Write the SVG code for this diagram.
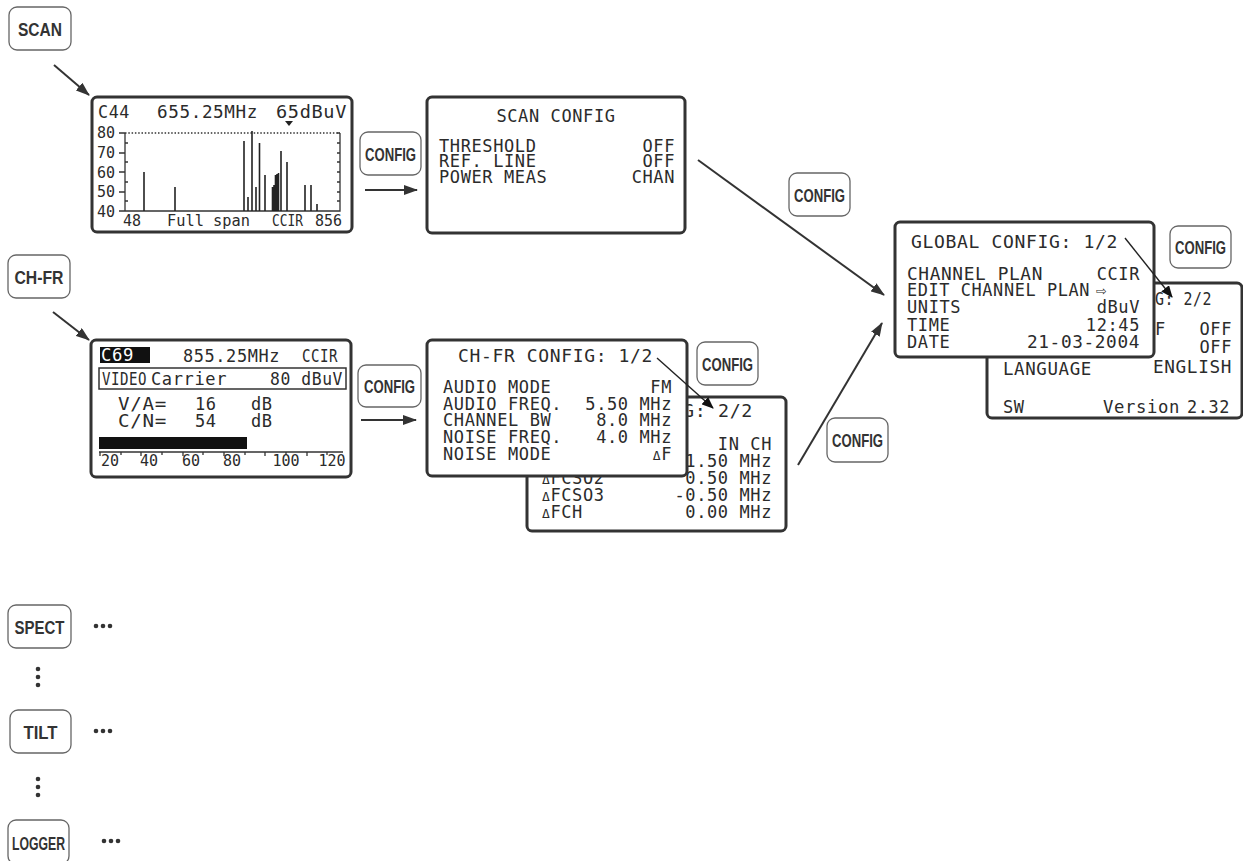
<svg xmlns="http://www.w3.org/2000/svg" width="1243" height="861" viewBox="0 0 1243 861">
<style>
.btn{fill:#fff;stroke:#666;stroke-width:1.3}
.bt{font-family:"Liberation Sans",Arial,sans-serif;font-weight:bold;font-size:18px;fill:#333;text-anchor:middle}
.scr{fill:#fff;stroke:#333;stroke-width:3}
.lcd{font-family:"DejaVu Sans Mono","Liberation Mono",monospace;font-size:17px;letter-spacing:0.6px;fill:#2b2b2b}
.sm{font-size:15px;letter-spacing:0}
.e{text-anchor:end}
.m{text-anchor:middle}
.con{stroke:#333;stroke-width:2;fill:none}
.thin{stroke:#222;stroke-width:1.4;fill:none}
.ax{stroke:#333;stroke-width:1.3;fill:none}
.bar{stroke:#222;stroke-width:1.6}
.dot{fill:#333}
</style>
<defs>
<marker id="ah" viewBox="0 0 14 10" refX="13" refY="5" markerWidth="14" markerHeight="10" markerUnits="userSpaceOnUse" orient="auto">
<path d="M0,0 L14,5 L0,10 Z" fill="#333"/>
</marker>
<marker id="ahs" viewBox="0 0 12 10" refX="11" refY="5" markerWidth="12" markerHeight="10" markerUnits="userSpaceOnUse" orient="auto">
<path d="M0,0 L12,5 L0,10 Z" fill="#111"/>
</marker>
</defs>

<!-- Buttons -->
<g id="btn-scan"><rect class="btn" x="9" y="7" width="62" height="43" rx="8"/><text class="bt" x="40" y="36" textLength="44" lengthAdjust="spacingAndGlyphs">SCAN</text></g>
<g id="btn-chfr"><rect class="btn" x="8" y="255" width="62" height="43" rx="8"/><text class="bt" x="39" y="284" textLength="49" lengthAdjust="spacingAndGlyphs">CH-FR</text></g>
<g id="btn-config1"><rect class="btn" x="360" y="132" width="61" height="43" rx="8"/><text class="bt" x="390.5" y="161" textLength="51" lengthAdjust="spacingAndGlyphs">CONFIG</text></g>
<g id="btn-config2"><rect class="btn" x="358" y="365" width="63" height="42" rx="8"/><text class="bt" x="389.5" y="393" textLength="51" lengthAdjust="spacingAndGlyphs">CONFIG</text></g>
<g id="btn-config3"><rect class="btn" x="789" y="173" width="61" height="43" rx="8"/><text class="bt" x="819.5" y="202" textLength="51" lengthAdjust="spacingAndGlyphs">CONFIG</text></g>
<g id="btn-config4"><rect class="btn" x="827" y="418" width="61" height="44" rx="8"/><text class="bt" x="857.5" y="447" textLength="51" lengthAdjust="spacingAndGlyphs">CONFIG</text></g>
<g id="btn-config5"><rect class="btn" x="697" y="342" width="61" height="43" rx="8"/><text class="bt" x="727.5" y="371" textLength="51" lengthAdjust="spacingAndGlyphs">CONFIG</text></g>
<g id="btn-config6"><rect class="btn" x="1170" y="226" width="61" height="42" rx="8"/><text class="bt" x="1200.5" y="254" textLength="51" lengthAdjust="spacingAndGlyphs">CONFIG</text></g>
<g id="btn-spect"><rect class="btn" x="8" y="605" width="63" height="43" rx="8"/><text class="bt" x="39.5" y="634" textLength="50" lengthAdjust="spacingAndGlyphs">SPECT</text>
<circle class="dot" cx="96" cy="626" r="2.3"/><circle class="dot" cx="103" cy="626" r="2.3"/><circle class="dot" cx="110" cy="626" r="2.3"/></g>
<g id="btn-tilt"><rect class="btn" x="10" y="710" width="61" height="43" rx="8"/><text class="bt" x="40.5" y="739" textLength="34" lengthAdjust="spacingAndGlyphs">TILT</text>
<circle class="dot" cx="96" cy="731" r="2.3"/><circle class="dot" cx="103" cy="731" r="2.3"/><circle class="dot" cx="110" cy="731" r="2.3"/></g>
<g id="btn-logger"><rect class="btn" x="8" y="820" width="61" height="44" rx="8"/><text class="bt" x="38.5" y="850" textLength="53" lengthAdjust="spacingAndGlyphs">LOGGER</text>
<circle class="dot" cx="104" cy="841" r="2.3"/><circle class="dot" cx="111" cy="841" r="2.3"/><circle class="dot" cx="118" cy="841" r="2.3"/></g>
<g id="vdots">
<circle class="dot" cx="38" cy="669" r="2.3"/><circle class="dot" cx="38" cy="677" r="2.3"/><circle class="dot" cx="38" cy="685" r="2.3"/>
<circle class="dot" cx="38" cy="779" r="2.3"/><circle class="dot" cx="38" cy="787" r="2.3"/><circle class="dot" cx="38" cy="795" r="2.3"/>
</g>

<!-- Spectrum screen -->
<g id="scr-scan">
<rect class="scr" x="92" y="97" width="260" height="135" rx="5"/>
<text class="lcd" x="98" y="118" textLength="32" lengthAdjust="spacingAndGlyphs">C44</text>
<text class="lcd" x="157" y="118" textLength="101" lengthAdjust="spacingAndGlyphs">655.25MHz</text>
<text class="lcd" x="276" y="118" textLength="71" lengthAdjust="spacingAndGlyphs">65dBuV</text>
<path d="M285,121 L293,121 L289,126 Z" fill="#222"/>
<g class="lcd sm">
<text x="97" y="138">80</text><text x="97" y="158">70</text><text x="97" y="178">60</text><text x="97" y="197">50</text><text x="97" y="217">40</text>
<text x="123" y="226">48</text>
<text x="167" y="226" textLength="83" lengthAdjust="spacingAndGlyphs">Full span</text>
<text x="272" y="226" textLength="31" lengthAdjust="spacingAndGlyphs">CCIR</text>
<text x="315" y="226" textLength="27" lengthAdjust="spacingAndGlyphs">856</text>
</g>
<path class="ax" d="M125,133 V211 H340 V133 M119,133 H125 M119,153 H125 M119,172 H125 M119,192 H125 M119,211 H125 M125,143 H128 M125,162 H128 M125,182 H128 M125,201 H128 M337,133 H340 M337,143 H340 M337,153 H340 M337,162 H340 M337,172 H340 M337,182 H340 M337,192 H340 M337,201 H340"/>
<path d="M125,133 H340" stroke="#333" stroke-width="1.3" stroke-dasharray="1.5 1.8"/>
<path class="bar" d="M144,211V172 M175,211V187 M244,211V141 M248,211V197 M252,211V131 M256,211V187 M259.5,211V143 M265,211V175 M272.5,211V187 M274,211V185 M275.5,211V175 M277,211V174 M278.5,211V173 M281,211V151 M287,211V162 M305,211V185 M311,211V185 M317,211V204"/>
</g>

<!-- SCAN CONFIG -->
<g id="scr-scanconfig">
<rect class="scr" x="427" y="97" width="258" height="136" rx="5"/>
<text class="lcd m" x="556" y="122">SCAN CONFIG</text>
<text class="lcd" x="439" y="152">THRESHOLD</text><text class="lcd e" x="675" y="152">OFF</text>
<text class="lcd" x="439" y="167">REF. LINE</text><text class="lcd e" x="675" y="167">OFF</text>
<text class="lcd" x="439" y="183">POWER MEAS</text><text class="lcd e" x="675" y="183">CHAN</text>
</g>

<!-- CH-FR screen -->
<g id="scr-chfr">
<rect class="scr" x="91" y="340" width="260" height="137" rx="5"/>
<rect x="100" y="347" width="50" height="16" fill="#111"/>
<text class="lcd" x="101" y="361" style="fill:#fff" textLength="33" lengthAdjust="spacingAndGlyphs">C69</text>
<text class="lcd" x="183" y="362" textLength="97" lengthAdjust="spacingAndGlyphs">855.25MHz</text>
<text class="lcd" x="302" y="362" textLength="36" lengthAdjust="spacingAndGlyphs">CCIR</text>
<rect x="99" y="368" width="247" height="21" fill="none" stroke="#333" stroke-width="1.5"/>
<text class="lcd" x="102" y="385" textLength="45" lengthAdjust="spacingAndGlyphs">VIDEO</text>
<text class="lcd" x="151" y="385" textLength="76" lengthAdjust="spacingAndGlyphs">Carrier</text>
<text class="lcd" x="270" y="385" textLength="73" lengthAdjust="spacingAndGlyphs">80 dBuV</text>
<text class="lcd" x="118" y="410" textLength="49" lengthAdjust="spacingAndGlyphs">V/A=</text>
<text class="lcd" x="195" y="410">16</text><text class="lcd" x="251" y="410">dB</text>
<text class="lcd" x="118" y="427" textLength="49" lengthAdjust="spacingAndGlyphs">C/N=</text>
<text class="lcd" x="195" y="427">54</text><text class="lcd" x="251" y="427">dB</text>
<rect x="99" y="437" width="148" height="12" fill="#111"/>
<path class="ax" d="M99,452 H343 M100,452V456 M121,452V455 M141,452V456 M162,452V455 M183,452V456 M203,452V455 M224,452V456 M245,452V455 M265,452V456 M286,452V455 M307,452V456 M327,452V455"/>
<g class="lcd sm m">
<text x="110" y="466">20</text><text x="149" y="466">40</text><text x="191" y="466">60</text><text x="232" y="466">80</text><text x="286" y="466">100</text><text x="332" y="466">120</text>
</g>
</g>

<!-- CH-FR CONFIG page 2 -->
<g id="scr-chfr-p2">
<rect class="scr" x="527" y="397" width="259" height="134" rx="5"/>
<text class="lcd" x="683" y="417" textLength="70" lengthAdjust="spacingAndGlyphs">G: 2/2</text>
<text class="lcd e" x="772" y="450">IN CH</text>
<text class="lcd e" x="772" y="467">1.50 MHz</text>
<text class="lcd" x="542" y="484"><tspan font-size="13">Δ</tspan>FCSO2</text><text class="lcd e" x="772" y="484">0.50 MHz</text>
<text class="lcd" x="542" y="501"><tspan font-size="13">Δ</tspan>FCSO3</text><text class="lcd e" x="772" y="501">-0.50 MHz</text>
<text class="lcd" x="542" y="518"><tspan font-size="13">Δ</tspan>FCH</text><text class="lcd e" x="772" y="518">0.00 MHz</text>
</g>

<!-- CH-FR CONFIG page 1 -->
<g id="scr-chfr-p1">
<rect class="scr" x="427" y="340" width="260" height="136" rx="5"/>
<text class="lcd" x="458" y="362" textLength="195" lengthAdjust="spacingAndGlyphs">CH-FR CONFIG: 1/2</text>
<text class="lcd" x="443" y="393">AUDIO MODE</text><text class="lcd e" x="672" y="393">FM</text>
<text class="lcd" x="443" y="410">AUDIO FREQ.</text><text class="lcd e" x="672" y="410">5.50 MHz</text>
<text class="lcd" x="443" y="426">CHANNEL BW</text><text class="lcd e" x="672" y="426">8.0 MHz</text>
<text class="lcd" x="443" y="443">NOISE FREQ.</text><text class="lcd e" x="672" y="443">4.0 MHz</text>
<text class="lcd" x="443" y="460">NOISE MODE</text><text class="lcd e" x="672" y="460"><tspan font-size="13">Δ</tspan>F</text>
</g>

<!-- GLOBAL CONFIG page 2 -->
<g id="scr-global-p2">
<rect class="scr" x="987" y="283" width="255" height="135" rx="5"/>
<text class="lcd" x="1155" y="305" textLength="57" lengthAdjust="spacingAndGlyphs">G: 2/2</text>
<text class="lcd" x="1155" y="335">F</text><text class="lcd e" x="1232" y="335">OFF</text>
<text class="lcd e" x="1232" y="353">OFF</text>
<text class="lcd" x="1003" y="375" textLength="89" lengthAdjust="spacingAndGlyphs">LANGUAGE</text><text class="lcd e" x="1232" y="373" textLength="79" lengthAdjust="spacingAndGlyphs">ENGLISH</text>
<text class="lcd" x="1003" y="413">SW</text>
<text class="lcd" x="1103" y="413" textLength="77" lengthAdjust="spacingAndGlyphs">Version</text>
<text class="lcd" x="1187" y="413" textLength="43" lengthAdjust="spacingAndGlyphs">2.32</text>
</g>

<!-- GLOBAL CONFIG page 1 -->
<g id="scr-global-p1">
<rect class="scr" x="895" y="222" width="259" height="135" rx="5"/>
<text class="lcd" x="911" y="248" textLength="207" lengthAdjust="spacingAndGlyphs">GLOBAL CONFIG: 1/2</text>
<text class="lcd" x="907" y="280" textLength="136" lengthAdjust="spacingAndGlyphs">CHANNEL PLAN</text><text class="lcd e" x="1140" y="280">CCIR</text>
<text class="lcd" x="907" y="296" textLength="183" lengthAdjust="spacingAndGlyphs">EDIT CHANNEL PLAN</text><text class="lcd" x="1096" y="296" font-size="13">⇨</text>
<text class="lcd" x="907" y="313">UNITS</text><text class="lcd e" x="1140" y="313">dBuV</text>
<text class="lcd" x="907" y="331">TIME</text><text class="lcd e" x="1140" y="331">12:45</text>
<text class="lcd" x="907" y="348">DATE</text><text class="lcd e" x="1140" y="348" textLength="113" lengthAdjust="spacingAndGlyphs">21-03-2004</text>
</g>

<!-- Connectors -->
<g id="connectors">
<line class="con" x1="54" y1="65" x2="89" y2="95" marker-end="url(#ah)"/>
<line class="con" x1="53" y1="312" x2="89" y2="340" marker-end="url(#ah)"/>
<line class="con" x1="365" y1="190" x2="417" y2="190" marker-end="url(#ah)"/>
<line class="con" x1="361" y1="420" x2="416" y2="420" marker-end="url(#ah)"/>
<line class="con" x1="698" y1="160" x2="884" y2="295" marker-end="url(#ah)"/>
<line class="con" x1="798" y1="465" x2="882" y2="323" marker-end="url(#ah)"/>
<line class="thin" x1="657" y1="358" x2="713" y2="408" marker-end="url(#ahs)"/>
<line class="thin" x1="1125" y1="238" x2="1172" y2="297" marker-end="url(#ahs)"/>
</g>
</svg>
